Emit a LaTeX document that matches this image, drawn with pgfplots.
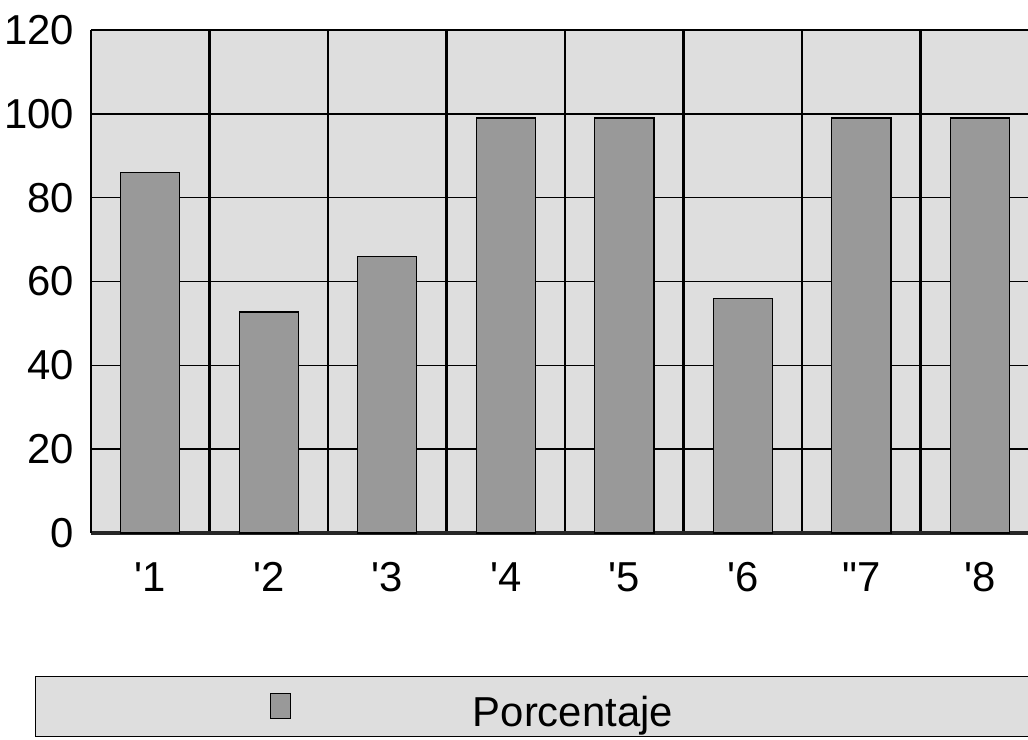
\documentclass[border=0pt]{standalone}
\usepackage{fontspec}
\setmainfont{Liberation Sans}
\usepackage{pgfplots}
\pgfplotsset{compat=1.18}
\definecolor{bgfill}{gray}{0.87}
\definecolor{barfill}{gray}{0.60}
\begin{document}
\begin{tikzpicture}
\useasboundingbox (0,0) rectangle (514bp,370bp);
\begin{axis}[
  at={(45.5bp,103.5bp)}, anchor=south west,
  scale only axis, width=468.5bp, height=251.5bp,
  xmin=-0.5, xmax=7.407, ymin=0, ymax=120,
  axis x line*=bottom, axis y line*=left,
  x axis line style={line width=2.4bp, draw=black!85},
  y axis line style={line width=1.2bp},
  axis background/.style={fill=bgfill},
  ytick={0,20,...,120},
  xtick={0,...,7},
  xticklabels={\textquotesingle1,\textquotesingle2,\textquotesingle3,\textquotesingle4,\textquotesingle5,\textquotesingle6,\textquotedbl7,\textquotesingle8},
  minor xtick={0.5,1.5,...,7.5},
  xminorgrids, ymajorgrids,
  minor x grid style={black, line width=1.2bp},
  major grid style={black, line width=0.8bp},
  major tick length=0pt, minor tick length=0pt,
  tick style={draw=none},
  /pgf/number format/assume math mode=true,
  ticklabel style={font=\fontsize{21}{25}\selectfont},
  yticklabel style={xshift=-5bp},
  xticklabel style={yshift=-10bp, text height=15.5bp, text depth=0bp},
  clip=false,
  legend style={at={(-0.0598,-0.2843)}, anchor=north west, draw=black,
    line width=0.5bp, fill=bgfill, inner xsep=117.5bp, inner ysep=5bp,
    font=\fontsize{21}{25}\selectfont,
    nodes={inner sep=0pt, text height=20bp, text depth=0bp}},
  legend cell align=left,
  legend image code/.code={\draw[fill=barfill, draw=black, line width=0.4bp] (0bp,-6bp) rectangle (10bp,6.5bp); \path[draw=none,fill=none] (0bp,0bp) -- (101bp,0bp);},
]
\addplot[ybar, bar width=0.5, fill=barfill, draw=black, line width=0.6bp]
  coordinates {(0,86) (1,52.7) (2,66) (3,99) (4,99) (5,56) (6,99) (7,99)};
\addlegendentry{Porcentaje\hspace*{300bp}}
\end{axis}
\end{tikzpicture}
\end{document}
